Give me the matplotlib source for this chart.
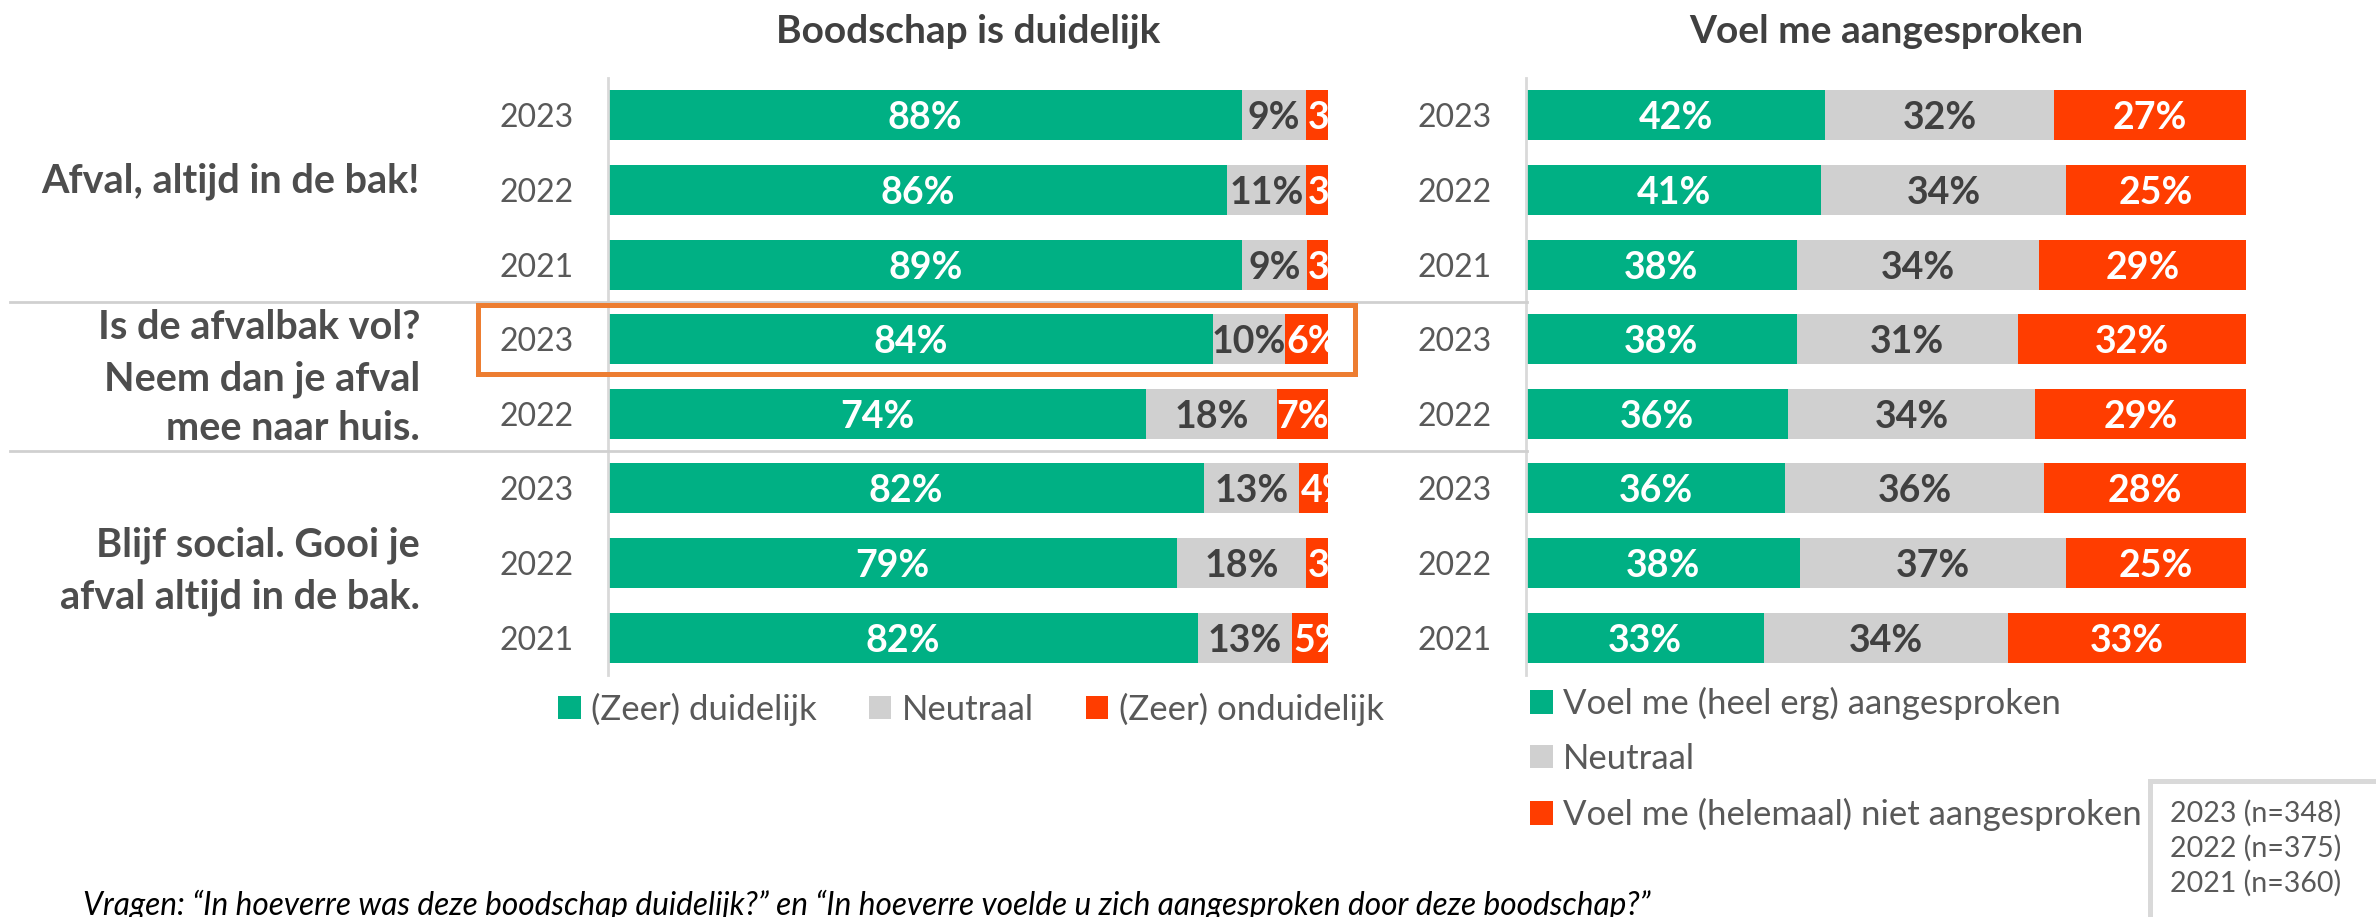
import matplotlib
matplotlib.use('Agg')
import matplotlib.pyplot as plt
import numpy as np
from matplotlib import transforms
from matplotlib.patches import Rectangle
from matplotlib.lines import Line2D

plt.rcParams['font.family'] = ['Lato', 'DejaVu Sans']

# ---------------- data ----------------
years = ['2023', '2022', '2021', '2023', '2022', '2023', '2022', '2021']
campaigns = ['Afval, altijd in de bak!',
             'Is de afvalbak vol?\nNeem dan je afval\nmee naar huis.',
             'Blijf social. Gooi je\nafval altijd in de bak.']
clear_pos = [88, 86, 89, 84, 74, 82, 79, 82]
clear_neu = [9, 11, 9, 10, 18, 13, 18, 13]
clear_neg = [3, 3, 3, 6, 7, 4, 3, 5]
addr_pos = [42, 41, 38, 38, 36, 36, 38, 33]
addr_neu = [32, 34, 34, 31, 34, 36, 37, 34]
addr_neg = [27, 25, 29, 32, 29, 28, 25, 33]
clear_labels = ['(Zeer) duidelijk', 'Neutraal', '(Zeer) onduidelijk']
addr_labels = ['Voel me (heel erg) aangesproken', 'Neutraal',
               'Voel me (helemaal) niet aangesproken']
sample_sizes = ['2023 (n=348)', '2022 (n=375)', '2021 (n=360)']
title_left = 'Boodschap is duidelijk'
title_right = 'Voel me aangesproken'
footnote = ('Vragen: \u201cIn hoeverre was deze boodschap duidelijk?\u201d en '
            '\u201cIn hoeverre voelde u zich aangesproken door deze boodschap?\u201d')

GREEN = '#00B084'
GREY = '#D0D0D0'
RED = '#FF3D00'
DARK = '#404040'
MID = '#595959'

W, H = 2376, 917
fig = plt.figure(figsize=(W / 100, H / 100), dpi=100)


def fx(px):
    return px / W


def fy(py):
    return 1 - py / H


ax_top, ax_bot = 78, 675
ax1 = fig.add_axes([fx(608), fy(ax_bot), 720 / W, (ax_bot - ax_top) / H])
ax2 = fig.add_axes([fx(1526), fy(ax_bot), 720 / W, (ax_bot - ax_top) / H])


def draw(ax, pos, neu, neg):
    pos = np.array(pos, float)
    neu = np.array(neu, float)
    neg = np.array(neg, float)
    tot = pos + neu + neg
    p, n, r = pos / tot * 100, neu / tot * 100, neg / tot * 100
    y = np.arange(len(years))
    b1 = ax.barh(y, p, height=0.67, color=GREEN, zorder=2)
    b2 = ax.barh(y, n, left=p, height=0.67, color=GREY, zorder=2)
    b3 = ax.barh(y, r, left=p + n, height=0.67, color=RED, zorder=2)
    for i in range(len(y)):
        for left, w, val, col in [(0, p[i], pos[i], 'white'),
                                  (p[i], n[i], neu[i], DARK),
                                  (p[i] + n[i], r[i], neg[i], 'white')]:
            if w < 6.5:
                xx, ha = left + 0.2, 'left'
            else:
                xx, ha = left + w / 2, 'center'
            ax.text(xx, y[i], f'{int(val)}%', ha=ha,
                    va='center_baseline', color=col, fontsize=27,
                    fontweight='bold', clip_on=True, zorder=3)
    ax.set_xlim(0, 100)
    ax.set_ylim(len(y) - 0.5, -0.5)
    for s in ['top', 'right', 'bottom']:
        ax.spines[s].set_visible(False)
    ax.spines['left'].set_color('#D9D9D9')
    ax.spines['left'].set_linewidth(2)
    ax.set_xticks([])
    ax.set_yticks(y, years)
    ax.tick_params(axis='y', length=0, pad=25, labelsize=23, labelcolor=MID)
    return [b1, b2, b3]


h1 = draw(ax1, clear_pos, clear_neu, clear_neg)
h2 = draw(ax2, addr_pos, addr_neu, addr_neg)

# titles
fig.text(fx(968), fy(43), title_left, ha='center', va='baseline',
         fontsize=28, fontweight='bold', color=DARK)
fig.text(fx(1886), fy(43), title_right, ha='center', va='baseline',
         fontsize=28, fontweight='bold', color=DARK)

# campaign labels (right aligned)
lab_specs = [(campaigns[0], [193]),
             (campaigns[1], [339, 390, 440]),
             (campaigns[2], [557, 608])]
for text, baselines in lab_specs:
    for line, b in zip(text.split('\n'), baselines):
        fig.text(fx(420), fy(b), line, ha='right', va='baseline',
                 fontsize=28.5, fontweight='bold', color='#4D4D4D')

# separators between campaigns
trans = transforms.blended_transform_factory(fig.transFigure, ax1.transData)
for yb in [2.5, 4.5]:
    fig.add_artist(Line2D([fx(10), fx(1527)], [yb, yb], transform=trans,
                          color='#D0D0D0', lw=2, zorder=1))

# highlight box around campaign 2, 2023
fig.add_artist(Rectangle((fx(478), 3 - 0.46), fx(1355) - fx(478), 0.93,
                         transform=trans, fill=False, ec='#ED7D31', lw=3.6,
                         zorder=5))

# legends
leg1 = ax1.legend(h1, clear_labels, loc='center left',
                  bbox_to_anchor=(fx(558), fy(709)),
                  bbox_transform=fig.transFigure, ncol=3, frameon=False,
                  fontsize=25, handlelength=0.65, handleheight=0.65,
                  handletextpad=0.3, columnspacing=1.5, borderaxespad=0,
                  borderpad=0, labelcolor=MID)
leg2 = ax2.legend(h2, addr_labels, loc='upper left',
                  bbox_to_anchor=(fx(1530), fy(687)),
                  bbox_transform=fig.transFigure, ncol=1, frameon=False,
                  fontsize=25, handlelength=0.65, handleheight=0.65,
                  handletextpad=0.3, labelspacing=0.66, borderaxespad=0,
                  borderpad=0, labelcolor=MID)

# sample size box
fig.add_artist(Rectangle((fx(2150), fy(1000)), fx(2600) - fx(2150),
                         (1000 - 781) / H, transform=fig.transFigure,
                         fc='white', ec='#D9D9D9', lw=3.6, zorder=4))
for s, yy in zip(sample_sizes, [811, 846, 881]):
    fig.text(fx(2170), fy(yy), s, ha='left', va='center_baseline',
             fontsize=20.5, color=MID, zorder=6)

# footnote
fig.text(fx(83), fy(915), footnote, ha='left', va='baseline', fontsize=22.8,
         style='italic', color='black')

fig.savefig('out.png', dpi=100)
